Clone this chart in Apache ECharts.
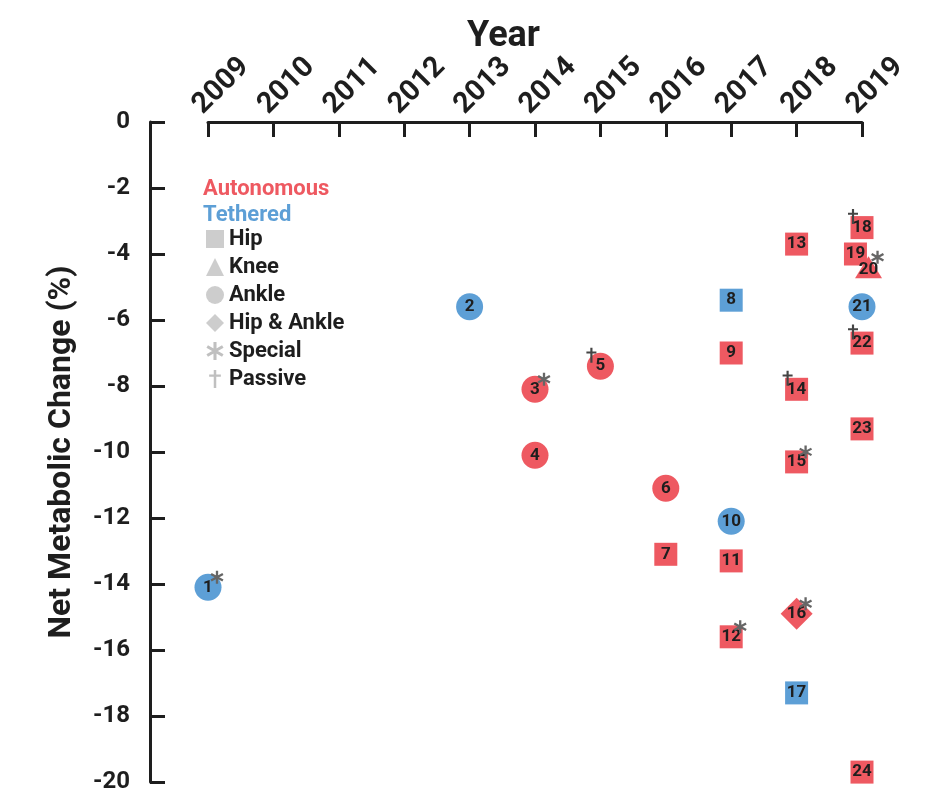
<!DOCTYPE html>
<html>
<head>
<meta charset="utf-8">
<script src="https://cdn.jsdelivr.net/npm/echarts@6/dist/echarts.min.js"></script>
<style>
  html, body { margin: 0; padding: 0; background: #fff; }
  #chart { width: 944px; height: 802px; }
</style>
</head>
<body>
<div id="chart"></div>
<script>
// study number, year, net metabolic change (%)
const ids     = [1, 2, 3, 4, 5, 6, 7, 8, 9, 10, 11, 12, 13, 14, 15, 16, 17, 18, 19, 20, 21, 22, 23, 24]
const years   = [2009, 2013, 2014, 2014, 2015, 2016, 2016, 2017, 2017, 2017, 2017, 2017,
                 2018, 2018, 2018, 2018, 2018, 2019, 2018.9, 2019.1, 2019, 2019, 2019, 2019]
const changes = [-14.1, -5.6, -8.1, -10.1, -7.4, -11.1, -13.1, -5.4, -7.0, -12.1, -13.3, -15.6,
                 -3.7, -8.1, -10.3, -14.9, -17.3, -3.2, -4.0, -4.4, -5.6, -6.7, -9.3, -19.7]
// A = autonomous, T = tethered
const groups  = ['T', 'T', 'A', 'A', 'A', 'A', 'A', 'T', 'A', 'T', 'A', 'A',
                 'A', 'A', 'A', 'A', 'T', 'A', 'A', 'A', 'T', 'A', 'A', 'A']
const joints  = ['Ankle', 'Ankle', 'Ankle', 'Ankle', 'Ankle', 'Ankle', 'Hip', 'Hip', 'Hip', 'Ankle', 'Hip', 'Hip',
                 'Hip', 'Hip', 'Hip', 'Hip & Ankle', 'Hip', 'Hip', 'Hip', 'Knee', 'Ankle', 'Hip', 'Hip', 'Hip']
const extras  = ['Special', '', 'Special', '', 'Passive', '', '', '', '', '', '', 'Special',
                 '', 'Passive', 'Special', 'Special', '', 'Passive', '', 'Special', '', 'Passive', '', '']
const yearTicks = [2009, 2010, 2011, 2012, 2013, 2014, 2015, 2016, 2017, 2018, 2019]

const RED = '#ee5961'
const BLUE = '#5d9fd6'
const GREY = '#c0c0c0'
const FONT = 'Roboto'

// symbol paths
const ASTERISK = 'path://M117,200L83,200L83,0L117,0Z M21.9,164.7L4.9,135.3L178.1,35.3L195.1,64.7Z M4.9,64.7L21.9,35.3L195.1,135.3L178.1,164.7Z'
const DAGGER = 'path://M86,0L114,0L114,50L165,50L165,76L114,76L114,200L86,200L86,76L35,76L35,50L86,50Z'

const shapeOf = {
  'Hip': 'rect',
  'Knee': 'triangle',
  'Ankle': 'circle',
  'Hip & Ankle': 'diamond'
}
const sizeOf = {
  'Hip': 23,
  'Knee': [27, 22],
  'Ankle': 27,
  'Hip & Ankle': 32
}

// 构建每组的点
const buildPoints = (g) => {
  const out = []
  ids.forEach((id, i) => {
    if (groups[i] !== g) return
    out.push({
      value: [years[i], changes[i], id],
      symbol: shapeOf[joints[i]],
      symbolSize: sizeOf[joints[i]],
      label: joints[i] === 'Knee' ? { offset: [0, 3] } : undefined
    })
  })
  return out
}

const buildExtras = (kind) => {
  const out = []
  ids.forEach((id, i) => {
    if (extras[i] === kind) out.push([years[i], changes[i]])
  })
  return out
}

const markLabel = {
  show: true,
  position: 'inside',
  formatter: (p) => p.value[2],
  color: '#1e1e1e',
  fontFamily: FONT,
  fontWeight: 'bold',
  fontSize: 17
}

const chart = echarts.init(document.getElementById('chart'))

const option = {
  animation: false,
  title: {
    text: 'Year',
    left: 462,
    top: 14,
    textStyle: { fontFamily: FONT, fontWeight: 'bold', fontSize: 36, color: '#1e1e1e' }
  },
  grid: { left: 208, right: 82, top: 122, bottom: 20 },
  legend: [
    {
      orient: 'vertical',
      left: 193,
      top: 173,
      itemWidth: 0,
      itemHeight: 0,
      itemGap: 4,
      selectedMode: false,
      textStyle: { fontFamily: FONT, fontWeight: 'bold', fontSize: 22, lineHeight: 22 },
      data: [
        { name: 'Autonomous', icon: 'rect', textStyle: { color: RED } },
        { name: 'Tethered', icon: 'rect', textStyle: { color: BLUE } }
      ]
    },
    {
      orient: 'vertical',
      left: 201,
      top: 223,
      itemWidth: 18,
      itemHeight: 18,
      itemGap: 6,
      selectedMode: false,
      textStyle: { fontFamily: FONT, fontWeight: 'bold', fontSize: 22, lineHeight: 22, color: '#1e1e1e' },
      data: [
        { name: 'Hip', icon: 'rect', itemStyle: { color: GREY } },
        { name: 'Knee', icon: 'triangle', itemStyle: { color: GREY } },
        { name: 'Ankle', icon: 'circle', itemStyle: { color: GREY } },
        { name: 'Hip & Ankle', icon: 'diamond', itemStyle: { color: GREY } },
        { name: 'Special', icon: ASTERISK, itemStyle: { color: GREY } },
        { name: 'Passive', icon: DAGGER, itemStyle: { color: GREY } }
      ]
    }
  ],
  xAxis: {
    type: 'value',
    position: 'top',
    min: 2009,
    max: 2019,
    interval: 1,
    splitLine: { show: false },
    axisLine: { show: true, lineStyle: { color: '#1e1e1e', width: 3 } },
    axisTick: { show: true, inside: true, length: 15, lineStyle: { color: '#1e1e1e', width: 3 } },
    axisLabel: {
      rotate: 45,
      margin: 2,
      verticalAlign: 'bottom',
      formatter: (v) => (yearTicks.includes(v) ? String(v) : ''),
      fontFamily: FONT,
      fontWeight: 'bold',
      fontSize: 29,
      color: '#1e1e1e'
    }
  },
  yAxis: {
    type: 'value',
    min: -20,
    max: 0,
    interval: 2,
    offset: 58,
    name: 'Net Metabolic Change (%)',
    nameLocation: 'middle',
    nameGap: 72,
    nameTextStyle: { fontFamily: FONT, fontWeight: 'bold', fontSize: 32, color: '#1e1e1e' },
    splitLine: { show: false },
    axisLine: { show: true, lineStyle: { color: '#1e1e1e', width: 3 } },
    axisTick: { show: true, inside: true, length: 15, lineStyle: { color: '#1e1e1e', width: 3 } },
    axisLabel: {
      margin: 20,
      fontFamily: FONT,
      fontWeight: 'bold',
      fontSize: 24,
      color: '#1e1e1e'
    }
  },
  series: [
    {
      name: 'Autonomous',
      type: 'scatter',
      clip: false,
      itemStyle: { color: RED, opacity: 1 },
      label: markLabel,
      z: 3,
      data: buildPoints('A')
    },
    {
      name: 'Tethered',
      type: 'scatter',
      clip: false,
      itemStyle: { color: BLUE, opacity: 1 },
      label: markLabel,
      z: 3,
      data: buildPoints('T')
    },
    {
      name: 'Special',
      type: 'scatter',
      clip: false,
      symbol: ASTERISK,
      symbolSize: 13,
      symbolOffset: [9, -10],
      itemStyle: { color: '#666666', opacity: 1 },
      z: 4,
      data: buildExtras('Special')
    },
    {
      name: 'Passive',
      type: 'scatter',
      clip: false,
      symbol: DAGGER,
      symbolSize: [10, 15],
      symbolOffset: [-9, -11],
      itemStyle: { color: '#444444', opacity: 1 },
      z: 4,
      data: buildExtras('Passive')
    },
    // 图例用的空系列
    { name: 'Hip', type: 'scatter', data: [] },
    { name: 'Knee', type: 'scatter', data: [] },
    { name: 'Ankle', type: 'scatter', data: [] },
    { name: 'Hip & Ankle', type: 'scatter', data: [] }
  ]
}

chart.setOption(option)
</script>
</body>
</html>
